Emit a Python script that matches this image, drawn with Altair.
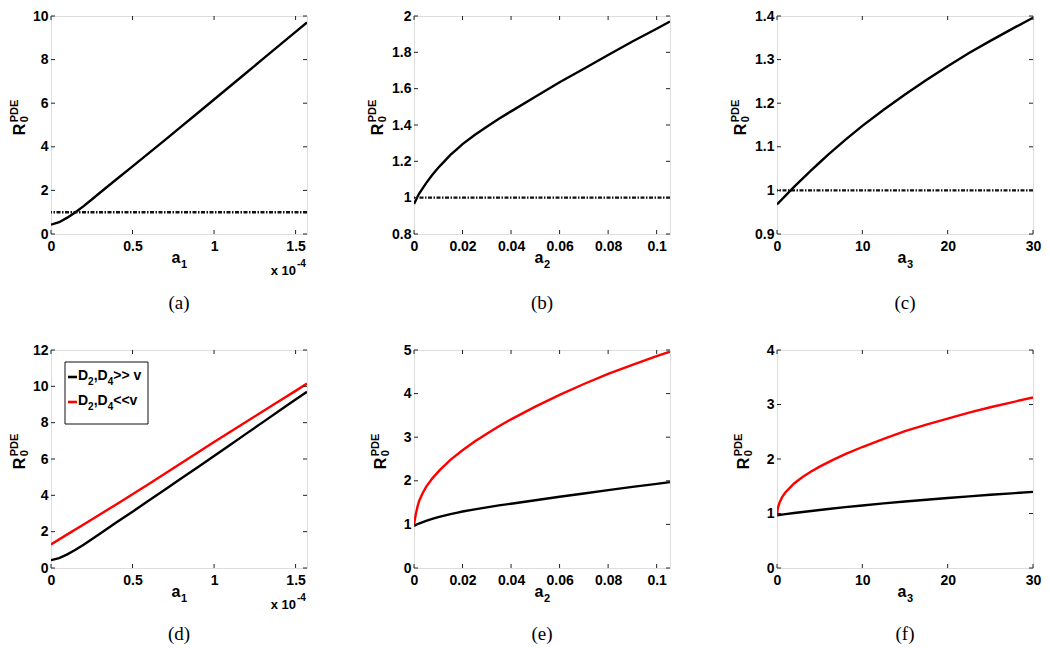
import altair as alt
import pandas as pd

# ---------------- data ----------------
# a1 in units of 1e-4
a1_x = [0, 0.05, 0.1, 0.15, 0.2, 0.25, 0.3, 0.4, 0.5, 0.6, 0.7, 0.8, 0.9, 1.0, 1.1, 1.2, 1.3,
        1.4, 1.5, 1.57]
r_a1_large = [0.43, 0.54, 0.75, 1.0, 1.28, 1.58, 1.89, 2.5, 3.1, 3.71, 4.32, 4.94, 5.55, 6.17,
              6.79, 7.41, 8.03, 8.65, 9.27, 9.7]
a1_x_red = [0, 0.1, 0.2, 0.3, 0.4, 0.5, 0.6, 0.7, 0.8, 0.9, 1.0, 1.1, 1.2, 1.3, 1.4, 1.5, 1.57]
r_a1_small = [1.3, 1.85, 2.4, 2.95, 3.5, 4.06, 4.63, 5.2, 5.78, 6.36, 6.94, 7.5, 8.07, 8.63, 9.19,
              9.75, 10.15]

a2_x = [0, 0.002, 0.005, 0.0075, 0.01, 0.0125, 0.015, 0.0175, 0.02, 0.025, 0.03, 0.035, 0.04, 0.05,
        0.06, 0.07, 0.08, 0.09, 0.1, 0.1055]
r_a2_large = [0.966, 1.02, 1.08, 1.125, 1.165, 1.2, 1.235, 1.265, 1.295, 1.345, 1.39, 1.435, 1.475,
              1.555, 1.635, 1.71, 1.785, 1.86, 1.93, 1.97]
a2_x_red = [0, 0.0003, 0.0008, 0.0015, 0.0022, 0.0035, 0.005, 0.0075, 0.0105, 0.015, 0.02, 0.025,
            0.03, 0.035, 0.04, 0.05, 0.06, 0.07, 0.08, 0.09, 0.1, 0.1055]
r_a2_small = [0.97, 1.1, 1.25, 1.42, 1.55, 1.71, 1.86, 2.05, 2.24, 2.48, 2.7, 2.9, 3.08, 3.25, 3.41,
              3.7, 3.97, 4.22, 4.45, 4.66, 4.86, 4.96]

a3_x = [0, 1, 2, 3, 4, 5, 6, 8, 10, 12.5, 15, 17.5, 20, 22.5, 25, 27.5, 30]
r_a3_large = [0.968, 0.988, 1.008, 1.027, 1.046, 1.064, 1.082, 1.116, 1.148, 1.185, 1.22, 1.253,
              1.285, 1.315, 1.343, 1.37, 1.396]
a3_x_red = [0, 0.1, 0.3, 0.6, 1, 1.5, 2, 3, 4, 5, 6.5, 8, 10, 12.5, 15, 17.5, 20, 22.5, 25, 27.5, 30]
r_a3_small = [0.97, 1.1, 1.2, 1.3, 1.39, 1.47, 1.55, 1.67, 1.77, 1.86, 1.98, 2.09, 2.22, 2.37, 2.51,
              2.63, 2.74, 2.85, 2.95, 3.04, 3.13]

threshold_value = [1.0]

xticks_a1 = [0, 0.5, 1.0, 1.5]
xticks_a2 = [0, 0.02, 0.04, 0.06, 0.08, 0.1]
xticks_a3 = [0, 10, 20, 30]
yticks_a = [0, 2, 4, 6, 8, 10]
yticks_b = [0.8, 1.0, 1.2, 1.4, 1.6, 1.8, 2.0]
yticks_c = [0.9, 1.0, 1.1, 1.2, 1.3, 1.4]
yticks_d = [0, 2, 4, 6, 8, 10, 12]
yticks_e = [0, 1, 2, 3, 4, 5]
yticks_f = [0, 1, 2, 3, 4]

legend_labels = ["D2,D4>> v", "D2,D4<<v"]

FONT = "Liberation Sans"
SERIF = "Liberation Serif"
CW = {"D": 0.722, ",": 0.278, ">": 0.584, "<": 0.584, " ": 0.278, "v": 0.556}


def series_df(xs, ys, name):
    return pd.DataFrame({"x": xs, "y": ys, "s": name})


def txt(text, x, y, size, angle=0, align="left", baseline="alphabetic", font=FONT,
        weight="bold", color="black"):
    kw = dict(fontSize=size, align=align, baseline=baseline, font=font,
              fontWeight=weight, color=color)
    if angle:
        kw["angle"] = angle
    return alt.Chart(pd.DataFrame({"t": [text]})).mark_text(**kw).encode(
        x=alt.value(x), y=alt.value(y), text="t:N")


def panel(lines_df, xdom, ydom, xticks, yticks, W, H, xsub, caption, rx,
          cap_dy, threshold=False, legend=False, sci=False):
    xs = alt.Scale(domain=xdom, nice=False, zero=False)
    ys = alt.Scale(domain=ydom, nice=False, zero=False)
    ax = dict(tickSize=0, domain=False, grid=False, labelFont=FONT, labelFontWeight="bold",
              labelFontSize=14, labelColor="black", format="~r", title=None, labelFlush=False)
    xax = alt.Axis(values=xticks, labelPadding=5, **ax)
    yax = alt.Axis(values=yticks, labelPadding=3, **ax)
    layers = []
    lines = alt.Chart(lines_df).mark_line(strokeWidth=2.4, clip=True).encode(
        x=alt.X("x:Q", scale=xs, axis=xax),
        y=alt.Y("y:Q", scale=ys, axis=yax),
        color=alt.Color("s:N", scale=alt.Scale(domain=["black", "red"],
                                               range=["#000000", "#ff0000"]), legend=None),
    )
    layers.append(lines)
    if threshold:
        layers.append(alt.Chart(pd.DataFrame({"v": threshold_value})).mark_rule(
            strokeDash=[4, 1.5, 1.5, 1.5], strokeWidth=2.4, color="#111").encode(
            y=alt.Y("v:Q", scale=ys, axis=yax)))
    xt = pd.DataFrame({"v": xticks})
    yt = pd.DataFrame({"v": yticks})
    tk = dict(color="#222", strokeWidth=1)
    layers += [
        alt.Chart(xt).mark_rule(**tk).encode(x=alt.X("v:Q", scale=xs, axis=xax),
                                             y=alt.value(H), y2=alt.value(H - 4)),
        alt.Chart(xt).mark_rule(**tk).encode(x=alt.X("v:Q", scale=xs, axis=xax),
                                             y=alt.value(0), y2=alt.value(4)),
        alt.Chart(yt).mark_rule(**tk).encode(y=alt.Y("v:Q", scale=ys, axis=yax),
                                             x=alt.value(0), x2=alt.value(4)),
        alt.Chart(yt).mark_rule(**tk).encode(y=alt.Y("v:Q", scale=ys, axis=yax),
                                             x=alt.value(W), x2=alt.value(W - 4)),
    ]
    # y title R_0^PDE (rotated)
    ry = H * 0.52
    layers += [
        txt("R", rx, ry, 16, angle=270, align="center", baseline="middle"),
        txt("0", rx + 5, ry - 7, 11, angle=270, align="left", baseline="middle"),
        txt("PDE", rx - 5, ry - 7, 11, angle=270, align="left", baseline="middle"),
    ]
    # x title a_k
    cx = W / 2 - 3
    layers += [
        txt("a", cx, H + 29, 16, align="center"),
        txt(xsub, cx + 5, H + 34, 11, align="left"),
    ]
    if sci:
        layers += [
            txt("x 10", W - 11, H + 41, 13, align="right"),
            txt("-4", W - 10, H + 33, 10, align="left"),
        ]
    layers.append(txt(caption, W / 2, H + cap_dy, 19, align="center", baseline="middle",
                      font=SERIF, weight="normal"))
    if legend:
        layers.append(alt.Chart(pd.DataFrame({"t": [0]})).mark_rect(
            fill="white", stroke="#111", strokeWidth=1).encode(
            x=alt.value(14), x2=alt.value(97), y=alt.value(12), y2=alt.value(74)))
        for i, (lab, col) in enumerate(zip(legend_labels, ["#000000", "#ff0000"])):
            yb = 30 + 25 * i
            layers.append(alt.Chart(pd.DataFrame({"t": [0]})).mark_rule(
                color=col, strokeWidth=2.6).encode(
                x=alt.value(17), x2=alt.value(26), y=alt.value(yb - 3)))
            xpos = 27.0
            parts = [("D", False), (lab[1], True), (",", False), ("D", False), (lab[4], True),
                     (lab[5:], False)]
            for p, sub in parts:
                if sub:
                    layers.append(txt(p, xpos, yb + 5, 10))
                    xpos += 0.556 * 10
                else:
                    layers.append(txt(p, xpos, yb, 14))
                    xpos += sum(CW.get(c, 0.556) for c in p) * 14
    return alt.layer(*layers).properties(width=W, height=H)


df_a = series_df(a1_x, r_a1_large, "black")
df_b = series_df(a2_x, r_a2_large, "black")
df_c = series_df(a3_x, r_a3_large, "black")
df_d = pd.concat([series_df(a1_x, r_a1_large, "black"),
                  series_df(a1_x_red, r_a1_small, "red")])
df_e = pd.concat([series_df(a2_x, r_a2_large, "black"),
                  series_df(a2_x_red, r_a2_small, "red")])
df_f = pd.concat([series_df(a3_x, r_a3_large, "black"),
                  series_df(a3_x_red, r_a3_small, "red")])

H1, H2 = 218, 218
PW = 256
pa = panel(df_a, [0, 1.57], [0, 10], xticks_a1, yticks_a, PW, H1, "1", "(a)", -31, 69,
           threshold=True, sci=True)
pb = panel(df_b, [0, 0.1055], [0.8, 2], xticks_a2, yticks_b, PW, H1, "2", "(b)", -36, 69,
           threshold=True)
pc = panel(df_c, [0, 30], [0.9, 1.4], xticks_a3, yticks_c, PW, H1, "3", "(c)", -36, 69,
           threshold=True)
pd_ = panel(df_d, [0, 1.57], [0, 12], xticks_a1, yticks_d, PW, H2, "1", "(d)", -31, 66,
            legend=True, sci=True)
pe = panel(df_e, [0, 0.1055], [0, 5], xticks_a2, yticks_e, PW, H2, "2", "(e)", -33, 66)
pf = panel(df_f, [0, 30], [0, 4], xticks_a3, yticks_f, PW, H2, "3", "(f)", -33, 66)

chart = alt.concat(pa, pb, pc, pd_, pe, pf, columns=3,
                   spacing=alt.RowColnumber(row=116, column=107),
                   bounds="flush").properties(
    padding={"left": 0, "top": 0, "right": 0, "bottom": 0}
).configure_view(stroke="#222", strokeWidth=1.2).configure(background="white")

chart.save("out.html", embed_options={"renderer": "svg", "actions": False})
